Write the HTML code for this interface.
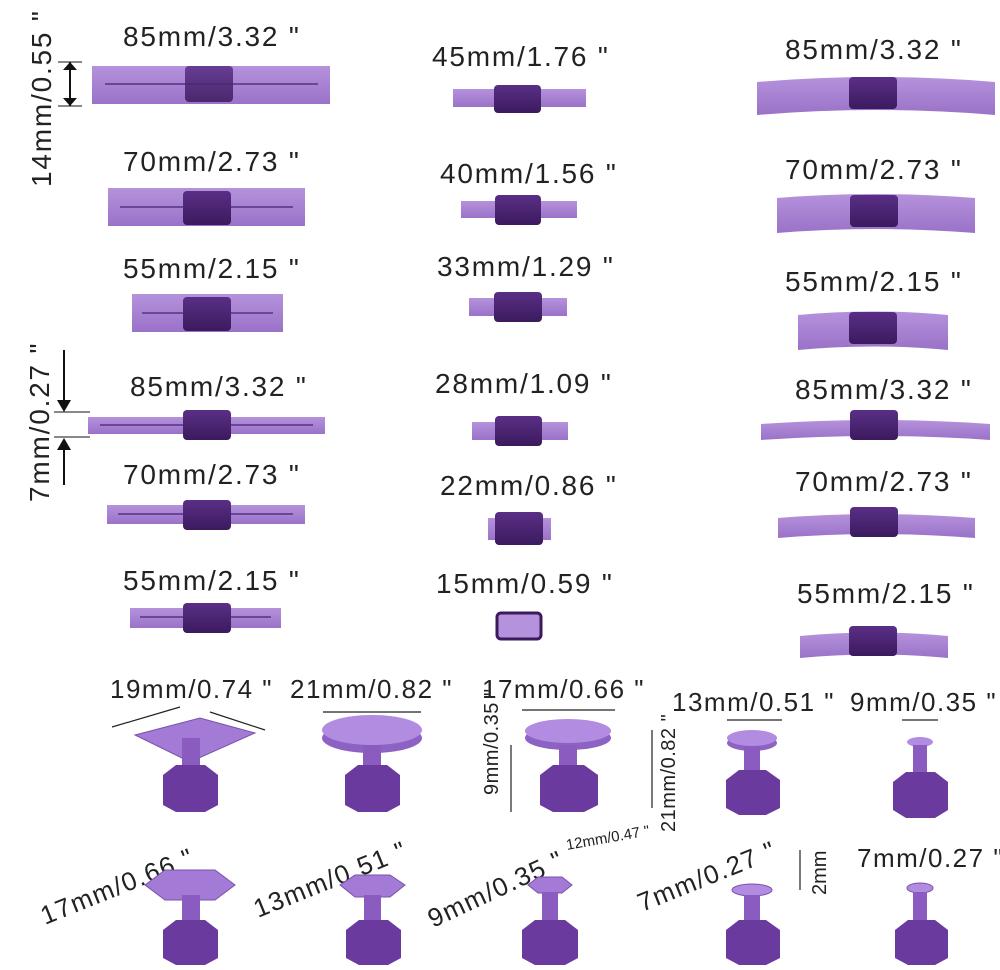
<!DOCTYPE html>
<html><head><meta charset="utf-8"><style>
html,body{margin:0;padding:0;background:#fff;}
svg{display:block;}
text{font-family:"Liberation Sans",sans-serif;fill:#222;}
</style></head><body>
<svg width="1000" height="970" viewBox="0 0 1000 970" xmlns="http://www.w3.org/2000/svg">
<defs>
<linearGradient id="bar" x1="0" y1="0" x2="0" y2="1"><stop offset="0" stop-color="#b592dc"/><stop offset="1" stop-color="#9a72c8"/></linearGradient>
<linearGradient id="blk" x1="0" y1="0" x2="0" y2="1"><stop offset="0" stop-color="#5a2f86"/><stop offset="1" stop-color="#3b1a5e"/></linearGradient>
</defs>
<g font-size="28" letter-spacing="1.8">
<text x="123" y="46">85mm/3.32 "</text>
<rect x="92" y="66" width="238" height="38" fill="url(#bar)"/><line x1="105" y1="84" x2="318" y2="84" stroke="#6b4596" stroke-width="2"/>
<rect x="185" y="66" width="48" height="36" rx="4" fill="url(#blk)" opacity="0.85"/>
<text x="123" y="171">70mm/2.73 "</text>
<rect x="108" y="188" width="197" height="38" fill="url(#bar)"/><line x1="120" y1="207" x2="293" y2="207" stroke="#6b4596" stroke-width="2"/>
<rect x="183" y="191" width="48" height="34" rx="4" fill="url(#blk)"/>
<text x="123" y="278">55mm/2.15 "</text>
<rect x="132" y="294" width="151" height="38" fill="url(#bar)"/><line x1="142" y1="313" x2="273" y2="313" stroke="#6b4596" stroke-width="2"/>
<rect x="183" y="297" width="48" height="34" rx="4" fill="url(#blk)"/>
<text x="130" y="396">85mm/3.32 "</text>
<rect x="88" y="417" width="237" height="17" fill="url(#bar)"/><line x1="100" y1="425" x2="313" y2="425" stroke="#6b4596" stroke-width="2"/>
<rect x="183" y="410" width="48" height="30" rx="4" fill="url(#blk)"/>
<text x="123" y="484">70mm/2.73 "</text>
<rect x="107" y="505" width="198" height="19" fill="url(#bar)"/><line x1="118" y1="514" x2="293" y2="514" stroke="#6b4596" stroke-width="2"/>
<rect x="183" y="500" width="48" height="30" rx="4" fill="url(#blk)"/>
<text x="123" y="590">55mm/2.15 "</text>
<rect x="130" y="608" width="151" height="20" fill="url(#bar)"/><line x1="140" y1="617" x2="271" y2="617" stroke="#6b4596" stroke-width="2"/>
<rect x="183" y="603" width="48" height="30" rx="4" fill="url(#blk)"/>
<text x="432" y="66">45mm/1.76 "</text>
<rect x="453" y="89" width="133" height="18" fill="url(#bar)"/><rect x="494" y="85" width="47" height="28" rx="4" fill="url(#blk)"/>
<text x="440" y="183">40mm/1.56 "</text>
<rect x="461" y="201" width="116" height="17" fill="url(#bar)"/><rect x="495" y="195" width="46" height="30" rx="4" fill="url(#blk)"/>
<text x="437" y="276">33mm/1.29 "</text>
<rect x="469" y="298" width="98" height="18" fill="url(#bar)"/><rect x="494" y="292" width="48" height="30" rx="4" fill="url(#blk)"/>
<text x="435" y="393">28mm/1.09 "</text>
<rect x="472" y="422" width="96" height="18" fill="url(#bar)"/><rect x="495" y="416" width="47" height="30" rx="4" fill="url(#blk)"/>
<text x="440" y="495">22mm/0.86 "</text>
<rect x="488" y="518" width="63" height="22" fill="url(#bar)"/><rect x="495" y="512" width="48" height="33" rx="4" fill="url(#blk)"/>
<text x="436" y="593">15mm/0.59 "</text>
<rect x="497" y="613" width="44" height="26" rx="4" fill="#b592dc" stroke="#3b1a5e" stroke-width="3"/>
<text x="785" y="59">85mm/3.32 "</text>
<path d="M757 82 Q876 72 995 82 L995 115 Q876 105 757 115 Z" fill="url(#bar)"/><rect x="849" y="77" width="48" height="32" rx="4" fill="url(#blk)"/>
<text x="785" y="179">70mm/2.73 "</text>
<path d="M777 198 Q876 190 975 198 L975 233 Q876 225 777 233 Z" fill="url(#bar)"/><rect x="850" y="195" width="48" height="32" rx="4" fill="url(#blk)"/>
<text x="785" y="291">55mm/2.15 "</text>
<path d="M798 315 Q873 308 948 315 L948 350 Q873 343 798 350 Z" fill="url(#bar)"/><rect x="849" y="312" width="48" height="32" rx="4" fill="url(#blk)"/>
<text x="795" y="399">85mm/3.32 "</text>
<path d="M761 424 Q876 416 990 424 L990 440 Q876 432 761 440 Z" fill="url(#bar)"/><rect x="850" y="410" width="48" height="30" rx="4" fill="url(#blk)"/>
<text x="795" y="491">70mm/2.73 "</text>
<path d="M778 518 Q876 510 975 518 L975 538 Q876 530 778 538 Z" fill="url(#bar)"/><rect x="850" y="507" width="48" height="30" rx="4" fill="url(#blk)"/>
<text x="797" y="603">55mm/2.15 "</text>
<path d="M800 636 Q874 629 948 636 L948 658 Q874 651 800 658 Z" fill="url(#bar)"/><rect x="849" y="626" width="48" height="30" rx="4" fill="url(#blk)"/>
<text transform="translate(51,187) rotate(-90)">14mm/0.55 "</text>
<line x1="70" y1="62" x2="70" y2="106" stroke="#111" stroke-width="2"/><line x1="58" y1="62" x2="82" y2="62" stroke="#111"/><line x1="58" y1="106" x2="82" y2="106" stroke="#111"/>
<path d="M63 70 L70 62 L77 70Z M63 98 L70 106 L77 98Z" fill="#111"/>
<text transform="translate(49,502) rotate(-90)">7mm/0.27 "</text>
<line x1="64" y1="350" x2="64" y2="410" stroke="#111" stroke-width="2"/><path d="M57 400 L64 412 L71 400Z" fill="#111"/>
<line x1="64" y1="440" x2="64" y2="485" stroke="#111" stroke-width="2"/><path d="M57 450 L64 438 L71 450Z" fill="#111"/>
<line x1="54" y1="412" x2="90" y2="412" stroke="#111"/><line x1="54" y1="437" x2="90" y2="437" stroke="#111"/>
</g>
<g font-size="26" letter-spacing="1.5">
<text x="110" y="698">19mm/0.74 "</text>
<text x="290" y="698">21mm/0.82 "</text>
<text x="482" y="698">17mm/0.66 "</text>
<text x="672" y="711">13mm/0.51 "</text>
<text x="850" y="711">9mm/0.35 "</text>
<text transform="translate(498,795) rotate(-90)" font-size="20" letter-spacing="0.5">9mm/0.35 "</text>
<text transform="translate(675,832) rotate(-90)" font-size="20" letter-spacing="0.5">21mm/0.82 "</text>
<text transform="translate(567,850) rotate(-10)" font-size="15" letter-spacing="0">12mm/0.47 "</text>
<text transform="translate(826,895) rotate(-90)" font-size="20" letter-spacing="0">2mm</text>
<text x="857" y="867">7mm/0.27 "</text>
<text transform="translate(45,925) rotate(-22)">17mm/0.66 "</text>
<text transform="translate(258,918) rotate(-22)">13mm/0.51 "</text>
<text transform="translate(433,928) rotate(-25)">9mm/0.35 "</text>
<text transform="translate(642,912) rotate(-22)">7mm/0.27 "</text>
</g>
<g stroke="#222" stroke-width="1.2" fill="none">
<line x1="323" y1="712" x2="421" y2="712"/><line x1="522" y1="710" x2="615" y2="710"/>
<line x1="727" y1="720" x2="782" y2="720"/><line x1="902" y1="720" x2="938" y2="720"/>
<line x1="511" y1="745" x2="511" y2="812"/><line x1="652" y1="730" x2="652" y2="808"/>
<line x1="800" y1="850" x2="800" y2="890"/>
<line x1="112" y1="727" x2="180" y2="707"/><line x1="210" y1="712" x2="265" y2="730"/>
</g>
<g>
<polygon points="135,735 200,718 255,733 190,762" fill="#a37ad6" stroke="#7a52a8"/>
<rect x="182" y="738" width="18" height="32" fill="#8a5cc0"/>
<polygon points="163,775 176,765 205,765 218,775 218,805 205,812 176,812 163,805" fill="#6a3a9e"/>
<ellipse cx="372" cy="738" rx="50" ry="15" fill="#8c62c2"/><ellipse cx="372" cy="730" rx="50" ry="15" fill="#b18ce0"/>
<rect x="363" y="745" width="18" height="25" fill="#8a5cc0"/>
<polygon points="345,775 358,765 387,765 400,775 400,805 387,812 358,812 345,805" fill="#6a3a9e"/>
<ellipse cx="568" cy="738" rx="43" ry="12" fill="#8c62c2"/><ellipse cx="568" cy="731" rx="43" ry="12" fill="#b18ce0"/>
<rect x="559" y="745" width="18" height="25" fill="#8a5cc0"/>
<polygon points="540,775 553,765 584,765 598,775 598,805 584,812 553,812 540,805" fill="#6a3a9e"/>
<ellipse cx="752" cy="743" rx="25" ry="8" fill="#8c62c2"/><ellipse cx="752" cy="738" rx="25" ry="8" fill="#b18ce0"/>
<rect x="744" y="746" width="16" height="28" fill="#8a5cc0"/>
<polygon points="726,780 739,770 766,770 780,780 780,808 766,815 739,815 726,808" fill="#6a3a9e"/>
<ellipse cx="920" cy="742" rx="13" ry="5" fill="#b18ce0"/>
<rect x="913" y="745" width="14" height="30" fill="#8a5cc0"/>
<polygon points="893,782 906,772 935,772 948,782 948,810 935,818 906,818 893,810" fill="#6a3a9e"/>
<polygon points="145,885 165,870 215,870 235,885 215,900 165,900" fill="#a37ad6" stroke="#7a52a8"/>
<rect x="182" y="895" width="18" height="28" fill="#8a5cc0"/>
<polygon points="163,930 176,920 205,920 218,930 218,958 205,965 176,965 163,958" fill="#6a3a9e"/>
<polygon points="340,885 355,875 390,875 405,885 390,897 355,897" fill="#a37ad6" stroke="#7a52a8"/>
<rect x="364" y="895" width="17" height="28" fill="#8a5cc0"/>
<polygon points="346,930 359,920 388,920 401,930 401,958 388,965 359,965 346,958" fill="#6a3a9e"/>
<polygon points="528,885 538,877 562,877 572,885 562,893 538,893" fill="#a37ad6" stroke="#7a52a8"/>
<rect x="542" y="892" width="16" height="30" fill="#8a5cc0"/>
<polygon points="522,930 535,920 565,920 578,930 578,958 565,965 535,965 522,958" fill="#6a3a9e"/>
<ellipse cx="752" cy="890" rx="20" ry="6" fill="#b18ce0" stroke="#7a52a8"/>
<rect x="744" y="895" width="16" height="28" fill="#8a5cc0"/>
<polygon points="726,930 739,920 766,920 780,930 780,958 766,965 739,965 726,958" fill="#6a3a9e"/>
<ellipse cx="920" cy="888" rx="13" ry="5" fill="#b18ce0" stroke="#7a52a8"/>
<rect x="913" y="892" width="14" height="30" fill="#8a5cc0"/>
<polygon points="895,930 908,920 935,920 948,930 948,958 935,965 908,965 895,958" fill="#6a3a9e"/>
</g>
</svg>
</body></html>
